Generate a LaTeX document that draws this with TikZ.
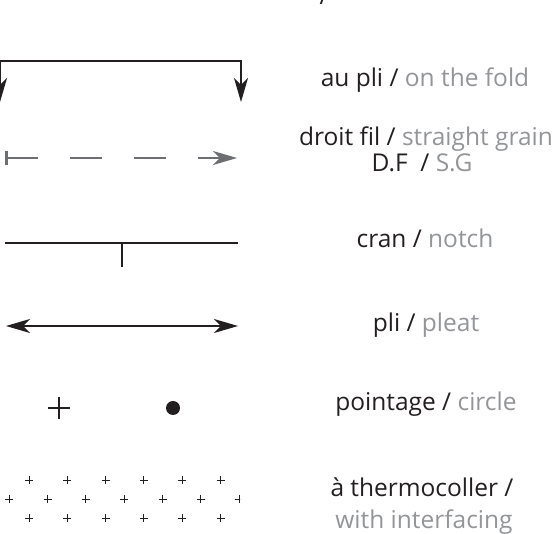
\documentclass[tikz,border=0pt]{standalone}
\usepackage{fontspec}
\setmainfont{Open Sans}
\usetikzlibrary{arrows.meta}
\definecolor{ink}{HTML}{231F20}
\definecolor{mute}{HTML}{939598}
\definecolor{grain}{HTML}{6D6E71}
\tikzset{
  lbl/.style={anchor=base,text=ink,inner sep=0pt,font=\fontsize{24.5}{26}\selectfont},
  sym/.style={draw=ink,line width=1.8pt},
  grainline/.style={draw=grain,line width=1.6pt,dash pattern=on 32pt off 32pt},
  dotplus/.style={draw=ink,line width=0.9pt},
}
\newcommand{\en}[1]{\textcolor{mute}{#1}}
\begin{document}
\begin{tikzpicture}[x=1pt,y=-1pt,>={Stealth[length=24pt,width=14pt,inset=7pt]}]
\useasboundingbox (0,0) rectangle (558,534);
\coordinate (F1) at (0,102);\coordinate (F2) at (0,61);
\coordinate (F3) at (241,61);\coordinate (F4) at (241,102);
\coordinate (G1) at (6,158);\coordinate (G2) at (237,158);
\coordinate (B1) at (6.5,151);\coordinate (B2) at (6.5,165);
\coordinate (C1) at (5,243);\coordinate (C2) at (238,243);
\coordinate (N1) at (122,243);\coordinate (N2) at (122,267);
\coordinate (P1) at (6,326);\coordinate (P2) at (238,326);
\coordinate (X) at (59,408);\coordinate (D) at (173,408);

\draw[sym,<->] (F1)--(F2)--(F3)--(F4);
\draw[grainline,->] (G1)--(G2);
\draw[draw=grain,line width=3pt] (B1)--(B2);
\draw[sym] (C1)--(C2) (N1)--(N2);
\draw[sym,<->] (P1)--(P2);
\draw[draw=ink,line width=1.4pt] (X)++(-11,0)--++(22,0) (X)++(0,-11)--++(0,22);
\fill[ink] (D) circle (7);

\begin{scope}
\clip (0,470) rectangle (240,530);
\foreach \i in {0,...,5}
  \foreach \y in {480,518}
    \draw[dotplus] (29+38.3*\i,\y) +(-4,0)--+(4,0) +(0,-4)--+(0,4);
\foreach \i in {0,...,6}
  \draw[dotplus] (9.3+38.3*\i,499) +(-4,0)--+(4,0) +(0,-4)--+(0,4);
\end{scope}

\node[lbl] (top) at (324,5) {/};
\node[lbl] (aupli) at (425,87) {au pli / \en{on the fold}};
\node[lbl] (fil) at (426,146) {droit fil / \en{straight grain}};
\node[lbl] (df) at (422,172) {D.F\ \ / \en{S.G}};
\node[lbl] (cran) at (425,248) {cran / \en{notch}};
\node[lbl] (pli) at (426,332) {pli / \en{pleat}};
\node[lbl] (pointage) at (426,411) {pointage / \en{circle}};
\node[lbl] (thermo) at (422,497) {à thermocoller /};
\node[lbl] (interf) at (424,529) {\en{with interfacing}};
\end{tikzpicture}
\end{document}
